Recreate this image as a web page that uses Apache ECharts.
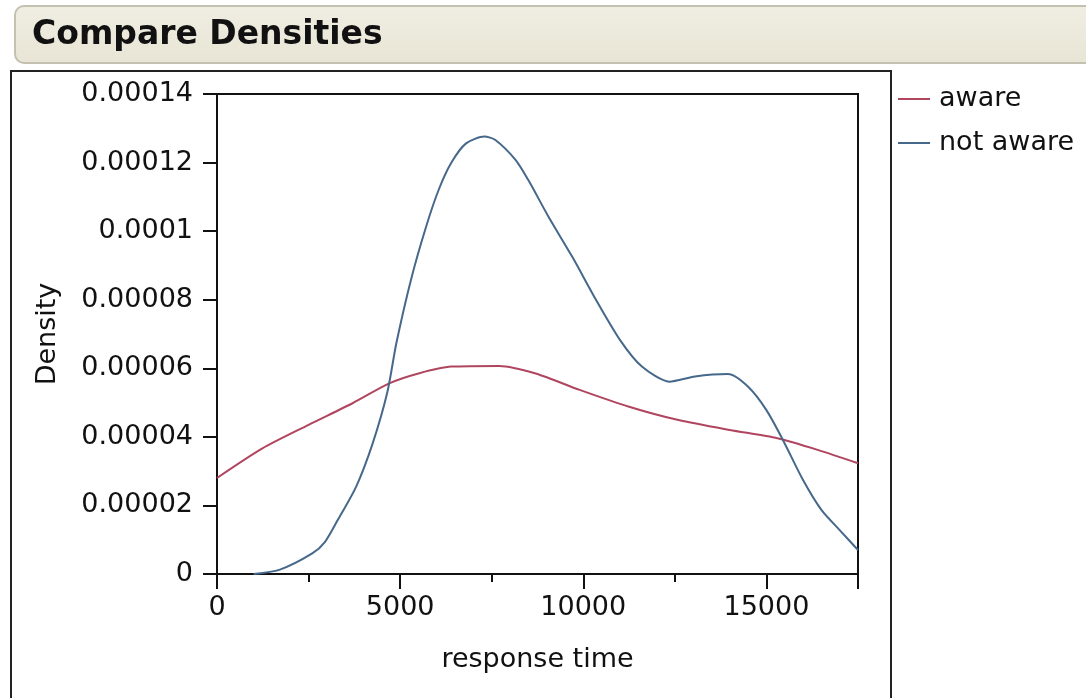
<!DOCTYPE html>
<html>
<head>
<meta charset="utf-8">
<script src="https://cdn.jsdelivr.net/npm/echarts@6/dist/echarts.min.js"></script>
<style>
  html, body { margin: 0; padding: 0; background: #ffffff; }
  #chart { width: 1086px; height: 698px; }
</style>
</head>
<body>
<div id="chart"></div>
<script>
// ---- data ----
const titleText = 'Compare Densities';
const seriesNames = ['aware', 'not aware'];
const xAxisName = 'response time';
const yAxisName = 'Density';

const awareX = [0, 1250, 2500, 3700, 4700, 5500, 6400, 7700, 8700, 9900, 11250, 12600, 14000, 15300, 16400, 17500];
const awareY = [2.80e-5, 3.67e-5, 4.35e-5, 4.98e-5, 5.56e-5, 5.85e-5, 6.05e-5, 6.07e-5, 5.85e-5, 5.37e-5, 4.88e-5, 4.49e-5, 4.20e-5, 3.96e-5, 3.62e-5, 3.23e-5];

const notAwareX = [1000, 1700, 2600, 2950, 3300, 3800, 4250, 4650, 4900, 5300, 5700, 6050, 6400, 6800, 7300, 7600, 8150, 8500, 9050, 9700, 10350, 11000, 11600, 12350, 13050, 13950, 14500, 15000, 15450, 16000, 16500, 17000, 17500];
const notAwareY = [0.0, 0.12e-5, 0.60e-5, 0.94e-5, 1.58e-5, 2.55e-5, 3.81e-5, 5.30e-5, 6.75e-5, 8.60e-5, 10.1e-5, 11.2e-5, 12.0e-5, 12.56e-5, 12.76e-5, 12.66e-5, 12.08e-5, 11.49e-5, 10.42e-5, 9.25e-5, 7.99e-5, 6.83e-5, 6.05e-5, 5.61e-5, 5.76e-5, 5.83e-5, 5.46e-5, 4.78e-5, 3.91e-5, 2.74e-5, 1.87e-5, 1.28e-5, 0.70e-5];

const xMin = 0, xMax = 17500, xStep = 5000;
const yMin = 0, yMax = 0.00014, yStep = 0.00002;

const colors = ['#b04560', '#46688a'];

function pairs(xs, ys) { return xs.map((x, i) => [x, ys[i]]); }

const FONT = '"DejaVu Sans", "Liberation Sans", sans-serif';
const chart = echarts.init(document.getElementById('chart'), null, { renderer: 'canvas' });

const option = {
  backgroundColor: '#ffffff',
  animation: false,
  color: colors,
  graphic: [
    {
      type: 'rect', z: -10, silent: true,
      shape: { x: 15, y: 6, width: 1090, height: 57, r: [9, 0, 0, 9] },
      style: {
        fill: { type: 'linear', x: 0, y: 0, x2: 0, y2: 1, colorStops: [
          { offset: 0, color: '#f0eee3' }, { offset: 1, color: '#e8e5d5' }] },
        stroke: '#c4c1b0', lineWidth: 2
      }
    },
    {
      type: 'text', z: 10, silent: true,
      style: { x: 32, y: 35, text: titleText, fill: '#111111',
        font: 'bold 33px ' + FONT, verticalAlign: 'middle', align: 'left' }
    },
    {
      type: 'polyline', z: -5, silent: true,
      shape: { points: [[11, 700], [11, 71], [891, 71], [891, 700]] },
      style: { stroke: '#222222', lineWidth: 2, fill: null }
    }
  ],
  grid: {
    left: 217, right: 1086 - 858, top: 94, bottom: 698 - 574,
    show: true, borderColor: '#111111', borderWidth: 2, backgroundColor: 'transparent'
  },
  legend: {
    orient: 'vertical', left: 898, top: 84, padding: 0,
    itemWidth: 32, itemHeight: 2, itemGap: 14, icon: 'rect',
    data: seriesNames,
    textStyle: { fontFamily: FONT, fontSize: 27, color: '#111111', lineHeight: 30, padding: [0, 0, 0, 4] }
  },
  xAxis: {
    type: 'value', min: xMin, max: xMax, interval: xStep,
    name: xAxisName, nameLocation: 'middle', nameGap: 72,
    nameTextStyle: { fontFamily: FONT, fontSize: 27, color: '#111111' },
    axisLine: { show: true, onZero: false, lineStyle: { color: '#111111', width: 2 } },
    axisTick: { show: true, length: 15, lineStyle: { color: '#111111', width: 2 } },
    minorTick: { show: true, splitNumber: 2, length: 8, lineStyle: { color: '#111111', width: 2 } },
    splitLine: { show: false },
    axisLabel: { fontFamily: FONT, fontSize: 27, color: '#111111', margin: 20, showMaxLabel: false,
      formatter: v => String(Math.round(v)) }
  },
  yAxis: {
    type: 'value', min: yMin, max: yMax, interval: yStep,
    name: yAxisName, nameLocation: 'middle', nameGap: 156, nameRotate: 90,
    nameTextStyle: { fontFamily: FONT, fontSize: 27, color: '#111111' },
    axisLine: { show: true, lineStyle: { color: '#111111', width: 2 } },
    axisTick: { show: true, length: 14, lineStyle: { color: '#111111', width: 2 } },
    splitLine: { show: false },
    axisLabel: {
      fontFamily: FONT, fontSize: 27, color: '#111111', margin: 24,
      formatter: v => (Math.abs(v) < 1e-12 ? '0' : v.toFixed(5).replace(/0+$/, ''))
    }
  },
  series: [
    {
      name: seriesNames[0], type: 'line', symbol: 'none', smooth: 0.25,
      lineStyle: { width: 2, color: colors[0] },
      data: pairs(awareX, awareY)
    },
    {
      name: seriesNames[1], type: 'line', symbol: 'none', smooth: 0.25,
      lineStyle: { width: 2, color: colors[1] },
      data: pairs(notAwareX, notAwareY)
    }
  ]
};
chart.setOption(option);
</script>
</body>
</html>
